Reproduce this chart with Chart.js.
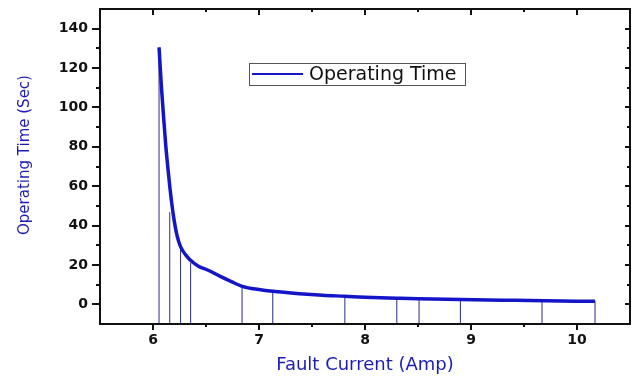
<!DOCTYPE html>
<html>
<head>
<meta charset="utf-8">
<script src="https://cdn.jsdelivr.net/npm/chart.js@4"></script>
<style>
  body { margin: 0; background: #fff; }
  #wrap { width: 637px; height: 376px; position: relative; }
</style>
</head>
<body>
<div id="wrap"><canvas id="lineChart"></canvas></div>
<script>
// curve
const currentA = [6.057, 6.08, 6.10, 6.12, 6.14, 6.16, 6.18, 6.20, 6.22, 6.24, 6.26, 6.283, 6.31, 6.346, 6.425, 6.52, 6.63, 6.74, 6.85, 7.0, 7.13, 7.38, 7.6, 7.81, 8.0, 8.3, 8.5, 8.9, 9.3, 9.7, 10.17];
const timeS = [130.5, 110, 95, 81, 69.5, 59, 50, 42.5, 36.5, 32.3, 29.3, 27.0, 25.0, 22.8, 19.5, 17.3, 14.3, 11.5, 9.0, 7.5, 6.6, 5.4, 4.6, 4.1, 3.6, 3.1, 2.8, 2.4, 2.1, 1.8, 1.5];

// drop lines
const stemX = [6.057, 6.158, 6.26, 6.355, 6.84, 7.13, 7.81, 8.30, 8.51, 8.90, 9.67, 10.17];
const stemTop = [130.5, 46.8, 28, 21, 8.3, 6.3, 4.1, 3.2, 2.9, 2.4, 1.9, 1.5];

const xTicks = [6, 7, 8, 9, 10];
const xMinor = [6.5, 7.5, 8.5, 9.5];
const yTicks = [0, 20, 40, 60, 80, 100, 120, 140];
const yMinor = [10, 30, 50, 70, 90, 110, 130];
const xRange = [5.5, 10.5];
const yRange = [-10, 150];

const seriesLabel = 'Operating Time';
const xTitle = 'Fault Current (Amp)';
const yTitle = 'Operating Time (Sec)';

const curve = currentA.map((x, i) => ({ x: x, y: timeS[i] }));
const stems = [];
stemX.forEach((x, i) => {
    stems.push({ x: x, y: yRange[0] });
    stems.push({ x: x, y: stemTop[i] });
    stems.push({ x: x, y: null });
});

// frame, mirrored ticks, y title and the boxed legend
const framePlugin = {
    id: 'frame',
    afterDraw(chart) {
        const { ctx, chartArea: a, scales } = chart;
        const xs = scales.x, ys = scales.y;
        ctx.save();
        ctx.strokeStyle = '#111';
        ctx.lineWidth = 2;
        ctx.strokeRect(a.left, a.top, a.right - a.left, a.bottom - a.top);

        const tick = (x1, y1, x2, y2) => {
            ctx.beginPath();
            ctx.moveTo(x1, y1);
            ctx.lineTo(x2, y2);
            ctx.stroke();
        };
        xTicks.forEach(v => {
            const p = Math.round(xs.getPixelForValue(v));
            tick(p, a.bottom, p, a.bottom + 6);
            tick(p, a.top, p, a.top + 6);
        });
        xMinor.forEach(v => {
            const p = Math.round(xs.getPixelForValue(v));
            tick(p, a.bottom, p, a.bottom + 3);
            tick(p, a.top, p, a.top + 3);
        });
        yTicks.forEach(v => {
            const p = Math.round(ys.getPixelForValue(v));
            tick(a.left - 8, p, a.left, p);
            tick(a.right - 5, p, a.right, p);
        });
        yMinor.forEach(v => {
            const p = Math.round(ys.getPixelForValue(v));
            tick(a.left - 4, p, a.left, p);
            tick(a.right - 3, p, a.right, p);
        });

        // y title
        ctx.save();
        ctx.translate(25, 155);
        ctx.rotate(-Math.PI / 2);
        ctx.fillStyle = '#1c1cb4';
        ctx.font = '15px "DejaVu Sans"';
        ctx.textAlign = 'center';
        ctx.textBaseline = 'middle';
        ctx.fillText(yTitle, 0, 0);
        ctx.restore();

        // legend box
        const lx = 249, ly = 63, lw = 216, lh = 22;
        ctx.lineWidth = 1;
        ctx.strokeStyle = '#555';
        ctx.strokeRect(lx + 0.5, ly + 0.5, lw, lh);
        ctx.strokeStyle = '#1414c8';
        ctx.lineWidth = 2;
        tick(lx + 3, ly + 11, lx + 54, ly + 11);
        ctx.fillStyle = '#111';
        ctx.font = '19px "DejaVu Sans"';
        ctx.textBaseline = 'middle';
        ctx.fillText(seriesLabel, lx + 60, ly + 12);
        ctx.restore();
    }
};

const noPad = s => { s.paddingTop = 0; s.paddingBottom = 0; s.paddingLeft = 0; s.paddingRight = 0; };

const ctx = document.getElementById('lineChart').getContext('2d');
const chart = new Chart(ctx, {
    type: 'scatter',
    data: {
        datasets: [{
            label: seriesLabel,
            data: curve,
            showLine: true,
            borderColor: '#1414c8',
            borderWidth: 3.5,
            pointRadius: 0,
            cubicInterpolationMode: 'monotone'
        }, {
            label: 'drop',
            data: stems,
            showLine: true,
            spanGaps: false,
            borderColor: '#2c2c84',
            borderWidth: 1,
            pointRadius: 0
        }]
    },
    options: {
        responsive: true,
        maintainAspectRatio: false,
        animation: false,
        layout: { padding: { top: 9, right: 7, left: 0, bottom: 0 } },
        plugins: {
            legend: { display: false },
            tooltip: { enabled: false }
        },
        scales: {
            x: {
                type: 'linear',
                min: xRange[0],
                max: xRange[1],
                afterBuildTicks: s => { s.ticks = xTicks.map(v => ({ value: v })); },
                afterFit: s => { s.height = 52; noPad(s); },
                grid: { display: false, drawTicks: false },
                border: { display: false },
                ticks: {
                    padding: 8,
                    color: '#111',
                    font: { family: 'DejaVu Sans', size: 14, weight: 'bold' }
                },
                title: {
                    display: true,
                    text: xTitle,
                    color: '#1c1cb4',
                    font: { family: 'DejaVu Sans', size: 18 },
                    padding: { top: 0, bottom: 0 }
                }
            },
            y: {
                type: 'linear',
                min: yRange[0],
                max: yRange[1],
                afterBuildTicks: s => { s.ticks = yTicks.map(v => ({ value: v })); },
                afterFit: s => { s.width = 100; noPad(s); },
                grid: { display: false, drawTicks: false },
                border: { display: false },
                ticks: {
                    padding: 12,
                    color: '#111',
                    font: { family: 'DejaVu Sans', size: 14, weight: 'bold' }
                },
                title: { display: false }
            }
        }
    },
    plugins: [framePlugin]
});
</script>
</body>
</html>
